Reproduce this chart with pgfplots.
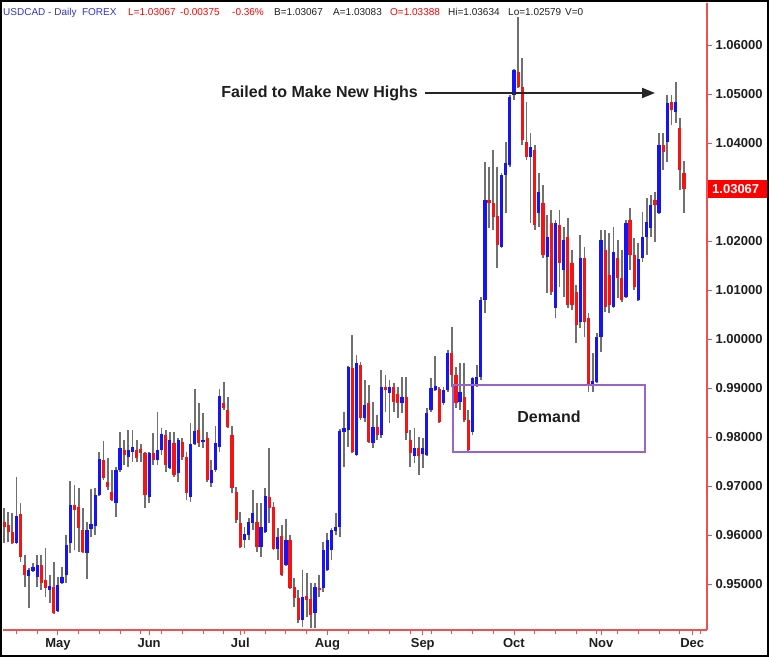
\documentclass[border=0pt]{standalone}
\usepackage{pgfplots}
\pgfplotsset{compat=1.18}
\usepackage{pgfplotstable}
\usepackage{fontspec}
\setmainfont{Liberation Sans}
\usetikzlibrary{arrows.meta}
\definecolor{axred}{RGB}{240,80,80}
\definecolor{candleblue}{RGB}{20,20,245}
\definecolor{candlered}{RGB}{245,20,20}
\definecolor{wick}{RGB}{112,112,112}
\definecolor{demand}{RGB}{155,100,205}
\definecolor{hdrblue}{RGB}{50,50,200}
\definecolor{txt}{RGB}{30,30,30}

\pgfplotstableread{
i o h l c
1 0.9627 0.9655 0.9584 0.9616
2 0.9620 0.9647 0.9586 0.9606
3 0.9606 0.9645 0.9582 0.9584
4 0.9584 0.9718 0.9582 0.9639
5 0.9643 0.9665 0.9545 0.9555
6 0.9539 0.9559 0.9494 0.9518
7 0.9516 0.9533 0.9451 0.9529
8 0.9527 0.9543 0.9524 0.9535
9 0.9514 0.9559 0.9494 0.9539
10 0.9539 0.9559 0.9488 0.9502
11 0.9508 0.9573 0.9473 0.9492
12 0.9488 0.9518 0.9461 0.9496
13 0.9494 0.9545 0.9439 0.9441
14 0.9445 0.9514 0.9443 0.9498
15 0.9502 0.9535 0.9500 0.9514
16 0.9518 0.9600 0.9502 0.9580
17 0.9584 0.9710 0.9563 0.9661
18 0.9661 0.9702 0.9569 0.9651
19 0.9657 0.9696 0.9565 0.9614
20 0.9610 0.9655 0.9563 0.9565
21 0.9563 0.9627 0.9510 0.9610
22 0.9612 0.9694 0.9596 0.9622
23 0.9618 0.9696 0.9600 0.9682
24 0.9682 0.9769 0.9680 0.9755
25 0.9753 0.9792 0.9712 0.9716
26 0.9708 0.9757 0.9692 0.9698
27 0.9688 0.9733 0.9669 0.9671
28 0.9665 0.9739 0.9637 0.9733
29 0.9733 0.9810 0.9729 0.9778
30 0.9773 0.9794 0.9743 0.9763
31 0.9759 0.9814 0.9739 0.9773
32 0.9769 0.9814 0.9749 0.9780
33 0.9773 0.9794 0.9749 0.9757
34 0.9776 0.9786 0.9749 0.9767
35 0.9767 0.9769 0.9655 0.9682
36 0.9678 0.9769 0.9665 0.9767
37 0.9767 0.9808 0.9743 0.9753
38 0.9753 0.9851 0.9743 0.9773
39 0.9773 0.9818 0.9763 0.9806
40 0.9804 0.9814 0.9729 0.9743
41 0.9737 0.9810 0.9735 0.9794
42 0.9788 0.9810 0.9718 0.9722
43 0.9727 0.9798 0.9708 0.9794
44 0.9790 0.9798 0.9753 0.9759
45 0.9759 0.9769 0.9671 0.9686
46 0.9678 0.9829 0.9667 0.9786
47 0.9786 0.9898 0.9784 0.9812
48 0.9814 0.9869 0.9780 0.9788
49 0.9790 0.9849 0.9778 0.9794
50 0.9798 0.9810 0.9708 0.9712
51 0.9706 0.9753 0.9698 0.9733
52 0.9733 0.9822 0.9729 0.9788
53 0.9780 0.9898 0.9769 0.9884
54 0.9869 0.9912 0.9855 0.9859
55 0.9855 0.9882 0.9818 0.9820
56 0.9804 0.9822 0.9686 0.9696
57 0.9688 0.9698 0.9624 0.9631
58 0.9624 0.9647 0.9574 0.9576
59 0.9590 0.9616 0.9573 0.9602
60 0.9600 0.9635 0.9590 0.9627
61 0.9624 0.9692 0.9610 0.9645
62 0.9627 0.9665 0.9565 0.9576
63 0.9576 0.9665 0.9555 0.9616
64 0.9606 0.9696 0.9604 0.9680
65 0.9678 0.9778 0.9624 0.9655
66 0.9657 0.9667 0.9569 0.9571
67 0.9571 0.9614 0.9549 0.9596
68 0.9598 0.9620 0.9516 0.9518
69 0.9539 0.9633 0.9537 0.9590
70 0.9590 0.9600 0.9490 0.9492
71 0.9494 0.9512 0.9453 0.9471
72 0.9471 0.9488 0.9420 0.9427
73 0.9427 0.9529 0.9412 0.9473
74 0.9476 0.9522 0.9433 0.9467
75 0.9469 0.9502 0.9410 0.9437
76 0.9441 0.9502 0.9410 0.9494
77 0.9492 0.9518 0.9473 0.9488
78 0.9492 0.9586 0.9484 0.9569
79 0.9529 0.9604 0.9527 0.9590
80 0.9569 0.9614 0.9549 0.9610
81 0.9608 0.9645 0.9600 0.9616
82 0.9616 0.9816 0.9596 0.9812
83 0.9810 0.9851 0.9739 0.9818
84 0.9814 0.9945 0.9780 0.9943
85 0.9941 1.0008 0.9767 0.9769
86 0.9763 0.9967 0.9761 0.9951
87 0.9947 0.9953 0.9835 0.9839
88 0.9839 0.9916 0.9831 0.9865
89 0.9869 0.9906 0.9788 0.9790
90 0.9788 0.9871 0.9778 0.9820
91 0.9820 0.9845 0.9794 0.9804
92 0.9804 0.9937 0.9798 0.9902
93 0.9902 0.9927 0.9851 0.9896
94 0.9890 0.9916 0.9829 0.9902
95 0.9902 0.9910 0.9851 0.9871
96 0.9888 0.9902 0.9839 0.9869
97 0.9869 0.9922 0.9849 0.9882
98 0.9882 0.9922 0.9794 0.9808
99 0.9794 0.9814 0.9739 0.9767
100 0.9761 0.9818 0.9747 0.9778
101 0.9778 0.9800 0.9722 0.9761
102 0.9765 0.9798 0.9737 0.9778
103 0.9763 0.9859 0.9761 0.9849
104 0.9855 0.9920 0.9851 0.9900
105 0.9896 0.9965 0.9894 0.9904
106 0.9898 0.9902 0.9829 0.9831
107 0.9869 0.9902 0.9865 0.9896
108 0.9896 0.9978 0.9892 0.9971
109 0.9971 1.0024 0.9902 0.9927
110 0.9927 0.9943 0.9859 0.9869
111 0.9871 0.9951 0.9855 0.9892
112 0.9882 0.9951 0.9831 0.9835
113 0.9835 0.9855 0.9769 0.9773
114 0.9810 0.9922 0.9804 0.9920
115 0.9906 0.9947 0.9902 0.9922
116 0.9922 1.0086 0.9916 1.0080
117 1.0080 1.0361 1.0053 1.0284
118 1.0284 1.0351 1.0227 1.0278
119 1.0278 1.0386 1.0222 1.0249
120 1.0251 1.0351 1.0145 1.0192
121 1.0188 1.0339 1.0186 1.0335
122 1.0335 1.0402 1.0257 1.0359
123 1.0355 1.0498 1.0351 1.0494
124 1.0498 1.0551 1.0488 1.0549
125 1.0545 1.0657 1.0512 1.0514
126 1.0514 1.0573 1.0396 1.0406
127 1.0402 1.0484 1.0365 1.0371
128 1.0371 1.0420 1.0237 1.0392
129 1.0386 1.0396 1.0222 1.0233
130 1.0257 1.0339 1.0229 1.0300
131 1.0278 1.0314 1.0165 1.0171
132 1.0167 1.0253 1.0094 1.0208
133 1.0237 1.0263 1.0090 1.0096
134 1.0063 1.0243 1.0043 1.0237
135 1.0233 1.0263 1.0106 1.0155
136 1.0141 1.0229 1.0086 1.0202
137 1.0208 1.0247 1.0063 1.0069
138 1.0155 1.0182 1.0059 1.0069
139 1.0096 1.0110 0.9992 1.0029
140 1.0035 1.0212 1.0022 1.0165
141 1.0165 1.0188 1.0004 1.0035
142 1.0043 1.0053 0.9892 0.9906
143 0.9906 0.9971 0.9892 0.9914
144 0.9912 1.0012 0.9910 1.0004
145 1.0004 1.0222 0.9973 1.0202
146 1.0182 1.0222 1.0055 1.0065
147 1.0131 1.0216 1.0053 1.0069
148 1.0065 1.0229 1.0063 1.0178
149 1.0165 1.0202 1.0084 1.0124
150 1.0124 1.0182 1.0076 1.0080
151 1.0086 1.0243 1.0084 1.0237
152 1.0243 1.0267 1.0141 1.0171
153 1.0171 1.0206 1.0100 1.0106
154 1.0080 1.0196 1.0078 1.0163
155 1.0165 1.0259 1.0157 1.0208
156 1.0208 1.0288 1.0171 1.0239
157 1.0227 1.0294 1.0208 1.0273
158 1.0284 1.0300 1.0198 1.0273
159 1.0257 1.0420 1.0255 1.0396
160 1.0396 1.0420 1.0345 1.0382
161 1.0402 1.0498 1.0361 1.0482
162 1.0484 1.0498 1.0437 1.0467
163 1.0463 1.0524 1.0441 1.0484
164 1.0431 1.0451 1.0304 1.0345
165 1.03388 1.03634 1.02579 1.03067
}\candles

\begin{document}
\begin{tikzpicture}
\begin{axis}[
  at={(0pt,0pt)}, anchor=south west,
  scale only axis, width=704pt, height=627pt,
  xmin=0.759, xmax=170.56, ymin=0.940612, ymax=1.068571,
  axis x line*=bottom, axis y line*=right,
  axis line style={axred, line width=1.2pt, -},
  tick style={axred, line width=0.9pt},
  tick align=outside,
  major tick length=5pt, minor tick length=3.5pt,
  xtick={14,36,58,79,102,124,145,167},
  xticklabels={May,Jun,Jul,Aug,Sep,Oct,Nov,Dec},
  minor xtick={4,9,...,169},
  ytick={0.95,0.96,0.97,0.98,0.99,1.00,1.01,1.02,1.04,1.05,1.06},
  scaled y ticks=false,
  /pgf/number format/assume math mode=true,
  yticklabel style={/pgf/number format/fixed, /pgf/number format/fixed zerofill, /pgf/number format/precision=5, font=\bfseries\fontsize{13}{13}\selectfont, text=txt},
  xticklabel style={font=\bfseries\fontsize{13}{13}\selectfont, text=txt},
]
\addplot[draw=none, mark=none, error bars/.cd, y dir=plus, y explicit, error mark=none, error bar style={draw=wick, line width=1.8pt}]
  table[x=i, y=l, y error plus expr=\thisrow{h}-\thisrow{l}] {\candles};
\addplot[draw=none, mark=none, restrict expr to domain={\thisrow{c}-\thisrow{o}}{0:1}, error bars/.cd, y dir=plus, y explicit, error mark=none, error bar style={draw=candleblue, line width=3.2pt}]
  table[x=i, y=o, y error plus expr=\thisrow{c}-\thisrow{o}] {\candles};
\addplot[draw=none, mark=none, restrict expr to domain={\thisrow{o}-\thisrow{c}}{0.000001:1}, error bars/.cd, y dir=plus, y explicit, error mark=none, error bar style={draw=candlered, line width=3.2pt}]
  table[x=i, y=c, y error plus expr=\thisrow{o}-\thisrow{c}] {\candles};
\end{axis}
% header
\begin{scope}[every node/.style={anchor=base west, inner sep=0pt, font=\fontsize{10}{12}\selectfont, text=txt}]
\node[text=hdrblue] at (0pt,614pt) {USDCAD - Daily\ \ FOREX};
\node[text=red] at (125pt,614pt) {L=1.03067};
\node[text=red] at (177pt,614pt) {-0.00375};
\node[text=red] at (229pt,614pt) {-0.36\%};
\node at (271pt,614pt) {B=1.03067};
\node at (330pt,614pt) {A=1.03083};
\node[text=red] at (387pt,614pt) {O=1.03388};
\node at (445pt,614pt) {Hi=1.03634};
\node at (505pt,614pt) {Lo=1.02579};
\node at (562pt,614pt) {V=0};
\end{scope}
% annotation
\node[anchor=east, inner sep=0pt, font=\bfseries\fontsize{16}{16}\selectfont, text=txt] at (415pt,537pt) {Failed to Make New Highs};
\draw[black!85, line width=2pt, -{Triangle[length=13pt,width=10pt]}] (422pt,537pt) -- (652pt,537pt);
\draw[demand, line width=2pt] (450pt,178pt) rectangle (642pt,245pt);
\node[font=\bfseries\fontsize{16}{16}\selectfont, text=txt] at (546pt,213pt) {Demand};
% last price box
\fill[red] (705pt,432pt) rectangle (766pt,450pt);
\node[anchor=west, inner sep=0pt, font=\bfseries\fontsize{13}{13}\selectfont, text=white] at (709pt,441pt) {1.03067};
% frame
\draw[black, line width=2pt] (-2pt,-26pt) rectangle (765pt,629pt);
\pgfresetboundingbox
\useasboundingbox (-3pt,-27pt) rectangle (766pt,630pt);
\end{tikzpicture}
\end{document}
